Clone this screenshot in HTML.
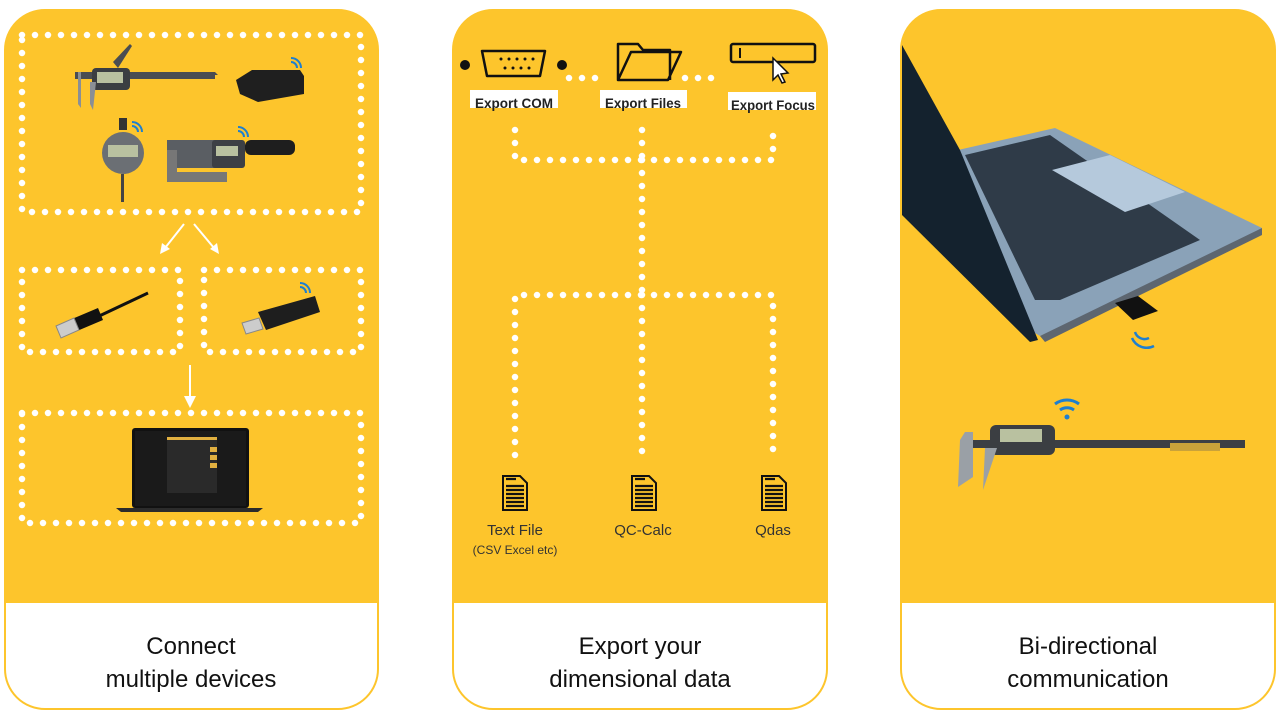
<!DOCTYPE html>
<html><head><meta charset="utf-8"><style>
html,body{margin:0;padding:0;background:#fff;width:1280px;height:718px;overflow:hidden}
svg{display:block}
text{font-family:"Liberation Sans",sans-serif}
</style></head><body>
<svg width="1280" height="718" viewBox="0 0 1280 718" xmlns="http://www.w3.org/2000/svg">
<defs>
<clipPath id="c1"><rect x="5" y="10" width="373" height="699" rx="40"/></clipPath>
<clipPath id="c2"><rect x="453" y="10" width="374" height="699" rx="40"/></clipPath>
<clipPath id="c3"><rect x="901" y="10" width="374" height="699" rx="40"/></clipPath>
</defs>
<g>
<rect x="5" y="10" width="373" height="699" rx="40" fill="#fff" stroke="#fdc52c" stroke-width="2"/>
<rect x="5" y="10" width="373" height="593" fill="#fdc52c" clip-path="url(#c1)"/>
<rect x="453" y="10" width="374" height="699" rx="40" fill="#fff" stroke="#fdc52c" stroke-width="2"/>
<rect x="453" y="10" width="374" height="593" fill="#fdc52c" clip-path="url(#c2)"/>
<rect x="901" y="10" width="374" height="699" rx="40" fill="#fff" stroke="#fdc52c" stroke-width="2"/>
<rect x="901" y="10" width="374" height="593" fill="#fdc52c" clip-path="url(#c3)"/>
</g>
<g fill="none" stroke="#fff" stroke-width="6.5" stroke-linecap="round" stroke-dasharray="0 13">
<rect x="22" y="35" width="339" height="177"/>
<rect x="22" y="270" width="158" height="82"/>
<rect x="204" y="270" width="157" height="82"/>
<rect x="22" y="413" width="339" height="110"/>
<path d="M569 78H608M685 78H714"/>
<path d="M515 130V160H773V130M642 130V160M642 160V295M515 455V295H773V455M642 295V455"/>
</g>
<g stroke="#fff" stroke-width="2" fill="#fff">
<path d="M184 224L165 248" /><path d="M160 254l2-11 8 6z" stroke="none"/>
<path d="M194 224L214 248"/><path d="M219 254l-9-5 7-6z" stroke="none"/>
<path d="M190 365V398"/><path d="M184 396h12l-6 12z" stroke="none"/>
</g>
<g>
<path d="M75 72h140l3 3h-3v4H75z" fill="#4a4d52"/>
<rect x="92" y="68" width="38" height="22" rx="4" fill="#3b3e42"/>
<rect x="97" y="72" width="26" height="11" fill="#b9c1a0"/>
<path d="M78 72v32l3 4v-36zM90 82v22l3 6 3-28z" fill="#8a8f95"/>
<path d="M113 62l17-18 2 2-14 22z" fill="#4a4d52"/>
<path d="M236 80l16-10h48l4 6v18l-46 8-18-8z" fill="#1f1f1f"/>
<rect x="119" y="118" width="8" height="12" fill="#333"/>
<circle cx="123" cy="153" r="21" fill="#6b6f74"/>
<rect x="108" y="145" width="30" height="12" fill="#b9c1a0"/>
<rect x="121" y="174" width="3" height="28" fill="#444"/>
<path d="M167 140h60v28h-60z" fill="#5a5e63"/>
<path d="M167 150h10v22h50v10h-60z" fill="#777"/>
<rect x="212" y="140" width="33" height="28" rx="3" fill="#3d4045"/>
<rect x="216" y="146" width="22" height="10" fill="#b9c1a0"/>
<rect x="245" y="140" width="50" height="15" rx="6" fill="#1e1e1e"/>
<path d="M95 318L148 293" stroke="#111" stroke-width="3"/>
<path d="M72 319l26-11 5 12-26 11z" fill="#111"/>
<path d="M56 326l18-8 5 12-18 8z" fill="#ccc" stroke="#888"/>
<path d="M258 312l57-16 5 16-54 18z" fill="#1e1e1e"/>
<path d="M242 323l17-5 4 11-17 5z" fill="#ccc" stroke="#888"/>
<rect x="132" y="428" width="117" height="80" rx="3" fill="#111"/>
<rect x="135" y="431" width="111" height="75" fill="#1a1a1a"/>
<rect x="167" y="437" width="50" height="56" fill="#2a2a2a"/>
<rect x="167" y="437" width="50" height="3" fill="#e1b040"/>
<rect x="210" y="447" width="7" height="5" fill="#e1b040"/><rect x="210" y="455" width="7" height="5" fill="#e1b040"/><rect x="210" y="463" width="7" height="5" fill="#e1b040"/>
<path d="M116 508h147l-5 4H121z" fill="#2b2b2b"/>
</g>
<g fill="none" stroke="#1e7fd0" stroke-width="2">
<path d="M291 62a6 6 0 0 1 6 6M291 58a10 10 0 0 1 10 10"/>
<path d="M132 126a6 6 0 0 1 6 6M132 122a10 10 0 0 1 10 10"/>
<path d="M238 131a6 6 0 0 1 6 6M238 127a10 10 0 0 1 10 10"/>
<path d="M300 287a6 6 0 0 1 6 6M300 283a10 10 0 0 1 10 10"/>
</g>
<g fill="none" stroke="#111" stroke-width="2.5">
<path d="M482 51h63l-5 25h-53z" stroke-linejoin="round"/>
<path d="M618 80V44h20l5 6h27v30M618 80l13-28h50l-13 28z" stroke-linejoin="round"/>
<rect x="731" y="44" width="84" height="18" rx="2"/>
<path d="M740 48v10" stroke-width="2"/>
</g>
<circle cx="465" cy="65" r="5" fill="#111"/><circle cx="562" cy="65" r="5" fill="#111"/>
<g fill="#111"><circle cx="501" cy="59" r="1.5"/><circle cx="509" cy="59" r="1.5"/><circle cx="517" cy="59" r="1.5"/><circle cx="525" cy="59" r="1.5"/><circle cx="533" cy="59" r="1.5"/><circle cx="505" cy="68" r="1.5"/><circle cx="513" cy="68" r="1.5"/><circle cx="521" cy="68" r="1.5"/><circle cx="529" cy="68" r="1.5"/></g>
<path d="M773 58v22l5-5 4 8 3-1-4-8 7-1z" fill="#fff" stroke="#111" stroke-width="1.5"/>
<g fill="#fff"><rect x="470" y="90" width="88" height="18"/><rect x="600" y="90" width="87" height="18"/><rect x="728" y="92" width="88" height="18"/></g>
<g font-weight="bold" font-size="14" fill="#222" text-anchor="middle" font-family="Liberation Sans Narrow,Liberation Sans,sans-serif">
<text x="514" y="108" textLength="78" lengthAdjust="spacingAndGlyphs">Export COM</text>
<text x="643" y="108" textLength="76" lengthAdjust="spacingAndGlyphs">Export Files</text>
<text x="773" y="110" textLength="84" lengthAdjust="spacingAndGlyphs">Export Focus</text>
</g>
<g>
<g transform="translate(503,476)"><path d="M0 0h17l7 7v27H0z" fill="#fdc52c" stroke="#111" stroke-width="2"/><path d="M3 3h10M3 10h18M3 14h18M3 18h18M3 22h18M3 26h18M3 30h18" stroke="#111" stroke-width="2.2"/></g>
<g transform="translate(632,476)"><path d="M0 0h17l7 7v27H0z" fill="#fdc52c" stroke="#111" stroke-width="2"/><path d="M3 3h10M3 10h18M3 14h18M3 18h18M3 22h18M3 26h18M3 30h18" stroke="#111" stroke-width="2.2"/></g>
<g transform="translate(762,476)"><path d="M0 0h17l7 7v27H0z" fill="#fdc52c" stroke="#111" stroke-width="2"/><path d="M3 3h10M3 10h18M3 14h18M3 18h18M3 22h18M3 26h18M3 30h18" stroke="#111" stroke-width="2.2"/></g>
</g>
<g fill="#333" text-anchor="middle">
<text x="515" y="535" font-size="15">Text File</text>
<text x="515" y="554" font-size="12">(CSV Excel etc)</text>
<text x="643" y="535" font-size="15">QC-Calc</text>
<text x="773" y="535" font-size="15">Qdas</text>
</g>
<g clip-path="url(#c3)">
<path d="M958 150L1055 128L1262 228L1190 270L1040 336L1010 318z" fill="#8aa2b8"/>
<path d="M965 155L1050 135L1200 240L1060 300L1035 300z" fill="#2f3b48"/>
<path d="M1052 170L1110 155L1185 192L1125 212z" fill="#b5c9dc"/>
<path d="M1040 336L1262 228L1262 235L1045 342z" fill="#5d6670"/>
<path d="M902 45L960 150L1038 340L1030 342L902 215z" fill="#14222e"/>
<path d="M1115 303l23-7 20 15-25 9z" fill="#111"/>
<g fill="none" stroke="#1e7fd0" stroke-width="2.5"><path d="M1135 332a10 10 0 0 0 14 6M1132 338a16 16 0 0 0 22 8"/></g>
</g>
<g>
<path d="M965 440h280v8H965z" fill="#3c3f44"/>
<rect x="990" y="425" width="65" height="30" rx="6" fill="#3b3e42"/>
<rect x="1000" y="429" width="42" height="13" fill="#b9c1a0"/>
<path d="M960 440l5-8h8v45l-15 10z" fill="#9aa0a6"/>
<path d="M985 448h12l-10 30-4 12z" fill="#9aa0a6"/>
<rect x="1170" y="443" width="50" height="8" fill="#c9a23a"/>
<g fill="none" stroke="#1e7fd0" stroke-width="3"><path d="M1060 410a12 12 0 0 1 14 0M1055 404a20 20 0 0 1 24 0"/></g>
<circle cx="1067" cy="417" r="2.5" fill="#1e7fd0"/>
</g>
<g font-size="24" fill="#111" text-anchor="middle" font-family="Liberation Sans,sans-serif">
<text x="191" y="654">Connect</text>
<text x="191" y="687">multiple devices</text>
<text x="640" y="654">Export your</text>
<text x="640" y="687">dimensional data</text>
<text x="1088" y="654">Bi-directional</text>
<text x="1088" y="687">communication</text>
</g>
</svg>
</body></html>
